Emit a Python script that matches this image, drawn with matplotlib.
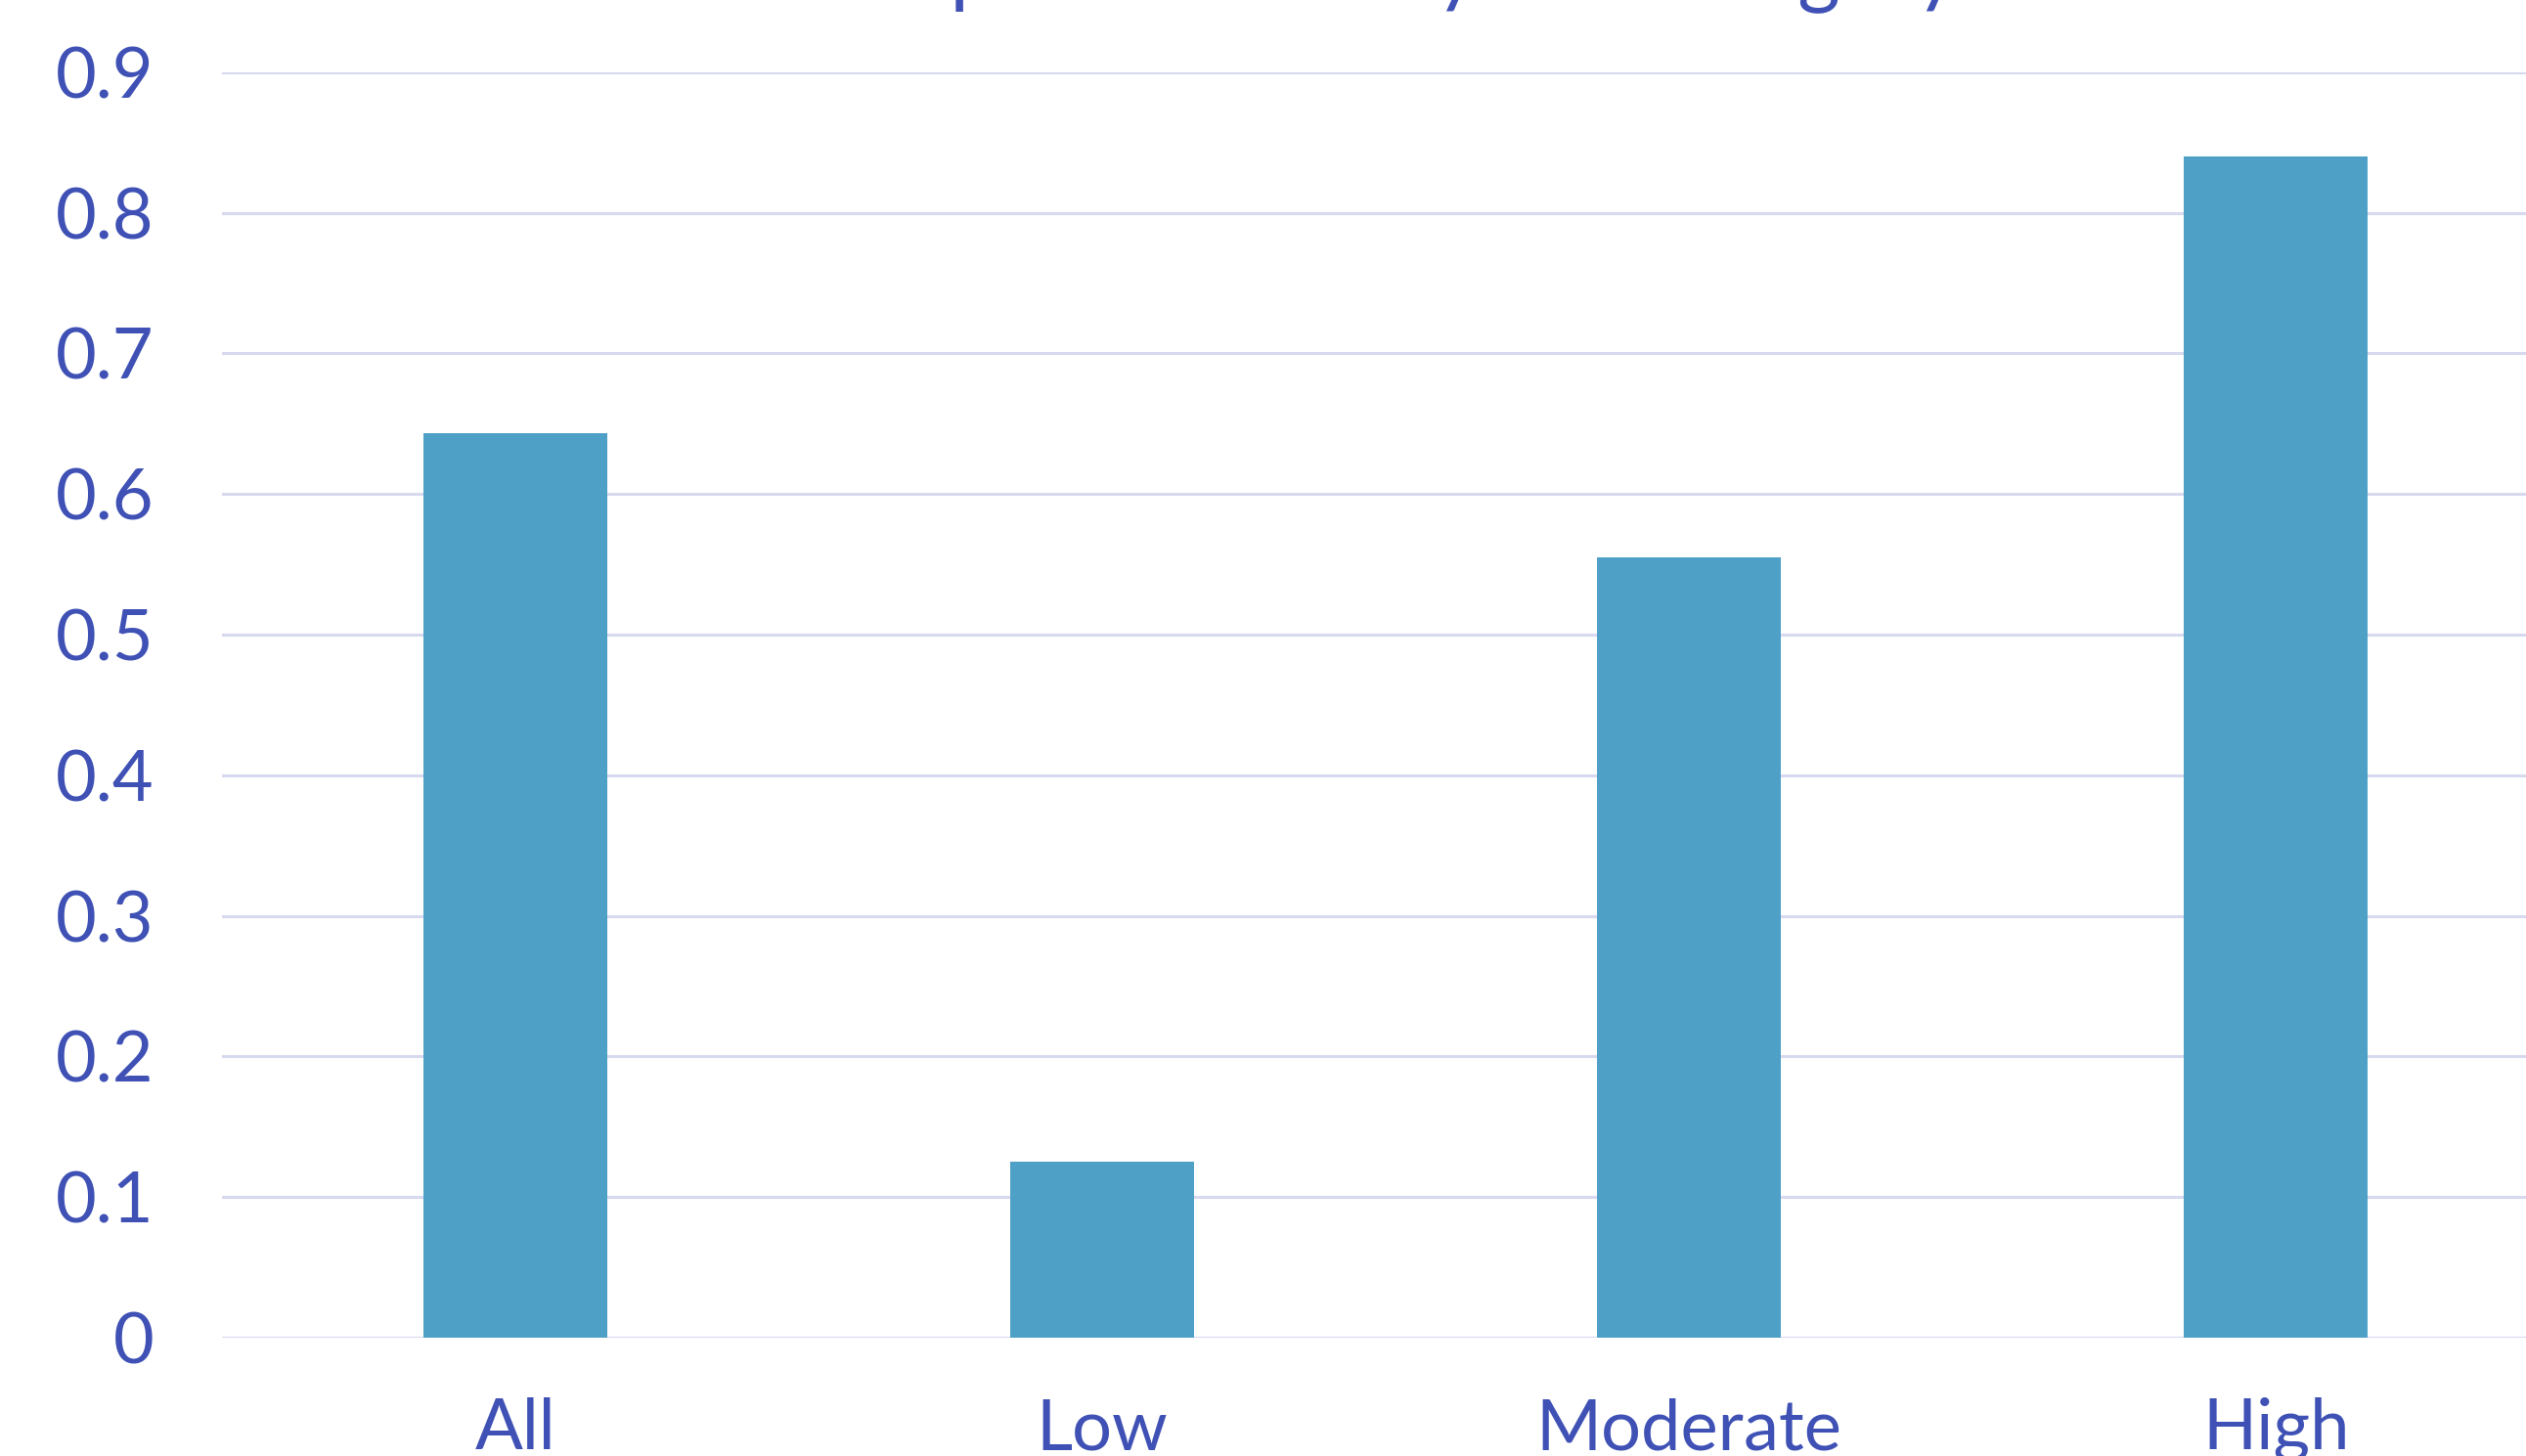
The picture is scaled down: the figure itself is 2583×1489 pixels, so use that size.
import matplotlib.pyplot as plt
import numpy as np

# risk groups and the share in each
categories = ['All', 'Low', 'Moderate', 'High']
values = [0.643, 0.125, 0.555, 0.84]
yticks = [0, 0.1, 0.2, 0.3, 0.4, 0.5, 0.6, 0.7, 0.8, 0.9]
title = 'Responder rate by risk category'

text_color = '#3F51B5'
bar_color = '#4FA0C6'
grid_color = '#D7D9EF'

plt.rcParams['font.family'] = ['Lato', 'DejaVu Sans']

fig = plt.figure(figsize=(25.83, 14.89), dpi=100)
ax = fig.add_axes([0.0879, 0.0813, 0.9292, 0.8691])

x = np.arange(len(categories))
ax.bar(x, values, width=0.313, color=bar_color, zorder=3)

ax.set_xlim(-0.5, 3.5)
ax.set_ylim(0, 0.9)
ax.set_yticks(yticks)
ax.set_yticklabels(['0' if v == 0 else '%.1f' % v for v in yticks])
ax.set_xticks(x)
ax.set_xticklabels(categories)

ax.grid(axis='y', color=grid_color, linewidth=2.2, zorder=0)
ax.set_axisbelow(True)
for s in ax.spines.values():
    s.set_visible(False)
ax.tick_params(axis='y', length=0, pad=50, labelsize=52, labelcolor=text_color)
ax.tick_params(axis='x', length=0, pad=44, labelsize=52, labelcolor=text_color)

# title sits above the top edge, only its descenders show
fig.text(0.55, 1.0 + 4 / 1489, title, ha='center', va='baseline',
         fontsize=60, color=text_color)

fig.savefig('out.png', dpi=100)
